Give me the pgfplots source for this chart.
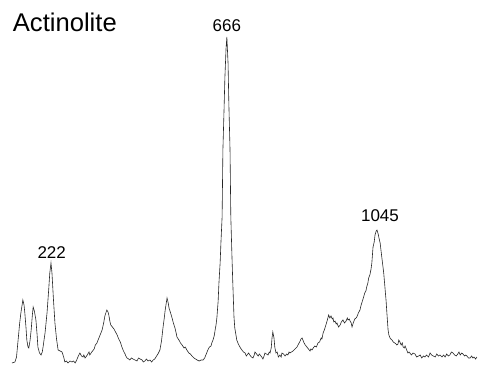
\documentclass[border=0pt]{standalone}
\usepackage{pgfplots}
\pgfplotsset{compat=1.18}
\usepackage{fontspec}
\setmainfont{Liberation Sans}
\begin{document}
\begin{tikzpicture}
\begin{axis}[
  scale only axis, width=478pt, height=367pt,
  hide axis, clip=false,
  xmin=93.3, xmax=1300, ymin=-4, ymax=363,
]
\addplot[black!85, line width=0.6pt, mark=none] coordinates {
(123.5,0) (131,1) (135,6) (139,23) (143,40) (146,50) (151,63) (154,58) (156,50) (159,35) (161,23) (164,16) (166,15) (169,22) (172,33) (175,48) (177,56) (180,52) (184,43) (187,28) (189,16) (193,10) (197,8) (200,11) (202,16) (207,30) (212,50) (216,72) (219,90) (222,100) (224.5,90) (228,65) (232,40) (236,24) (240,13) (245,12) (250,11) (254,6) (257,1) (261,2) (265,0) (270,2) (275,1) (279,2) (283,0) (287,3) (290,6) (295,10) (299,7) (303,6) (305,8) (308,5) (312,7) (315,9) (318,11) (320,8) (325,11) (331,14) (334,18) (338,20) (342,24) (346,28) (351,33) (355,40) (358,47) (363,53) (366,51) (368,48) (371,41) (373,38) (377,36) (381,34) (385,31) (389,28) (393,24) (397,21) (401,16) (405,12) (409,9) (411,7) (414,5) (418,4) (421,3) (425,5) (429,4) (434,3) (439,2) (443,5) (447,4) (452,3) (455,1) (459,2) (463,4) (467,2) (472,3) (476,1) (480,3) (484,4) (487,6) (492,9) (497,13) (501,22) (505,36) (508,45) (510,52) (513,60) (515,65) (518,60) (520,55) (524,50) (527,46) (531,40) (535,35) (538,30) (540,26) (545,23) (549,20) (553,18) (558,15) (561,16) (565,13) (570,10) (574,9) (578,7) (583,5) (587,4) (591,3) (596,2) (601,3) (606,3) (610,5) (613,8) (616,11) (618,13) (622,16) (626,17) (628,20) (631,23) (634,27) (636,32) (639,39) (641,46) (644,62) (646,80) (649,100) (651,120) (654,146) (656,213) (659,255) (661,285) (664,315) (666,326) (669,300) (671,260) (674,213) (676,146) (679,105) (681,80) (684,46) (686,35) (689,28) (691,23) (695,19) (699,16) (702,14) (704,13) (708,11) (712,10) (715,7) (717,8) (721,10) (724,8) (728,6) (732,5) (735,8) (737,11) (741,9) (745,7) (748,9) (750,8) (754,6) (757,4) (760,7) (762,10) (766,9) (770,8) (773,11) (775,10) (778,15) (780,25) (782,31) (784,27) (785,25) (787,16) (790,10) (793,11) (796,6) (800,8) (803,6) (805,10) (809,9) (813,7) (817,9) (820,8) (823,11) (825,10) (829,11) (833,12) (838,14) (843,16) (847,19) (851,22) (853,24) (856,25) (858,23) (861,20) (864,18) (868,16) (872,14) (876,12) (878,14) (881,13) (884,15) (888,17) (892,16) (896,20) (900,21) (904,25) (906,24) (909,30) (912,33) (916,38) (919,42) (921,45) (923,48) (926,45) (929,47) (932,44) (934,45) (936,41) (939,42) (942,39) (944,40) (948,36) (952,38) (955,41) (959,43) (963,40) (967,42) (970,45) (972,43) (975,44) (977,42) (980,40) (982,36) (985,40) (989,44) (992,45) (994,46) (998,50) (1002,53) (1005,58) (1009,63) (1012,67) (1014,70) (1017,72) (1019,76) (1022,80) (1024,85) (1027,88) (1030,94) (1032,100) (1035,116) (1038,121) (1040,128) (1043,132) (1045,133) (1048,129) (1050,125) (1053,120) (1055,113) (1058,103) (1062,90) (1065,76) (1068,62) (1070,50) (1073,33) (1075,28) (1078,25) (1080,24) (1083,23) (1086,21) (1090,20) (1093,19) (1095,18) (1098,19) (1100,23) (1103,21) (1106,18) (1109,20) (1111,16) (1114,15) (1116,17) (1120,13) (1123,10) (1126,11) (1128,10) (1132,8) (1136,10) (1141,9) (1145,6) (1150,7) (1154,8) (1158,5) (1162,7) (1166,6) (1170,8) (1175,6) (1179,10) (1183,8) (1187,7) (1192,6) (1196,9) (1200,7) (1204,8) (1209,6) (1213,8) (1217,6) (1221,9) (1225,7) (1229,8) (1233,11) (1237,10) (1241,8) (1245,7) (1249,9) (1252,11) (1255,8) (1259,10) (1262,9) (1266,7) (1269,8) (1272,7) (1276,5) (1280,5) (1284,7) (1287,5) (1290,6) (1294,4) (1297,6)
};
\node[anchor=base west, inner sep=0pt, font=\fontsize{25.6}{30}\selectfont] at (axis cs:125.3,331.3) {Actinolite};
\node[anchor=base, inner sep=0pt, font=\fontsize{17}{20}\selectfont] at (axis cs:666,331) {666};
\node[anchor=base, inner sep=0pt, font=\fontsize{17}{20}\selectfont] at (axis cs:223.8,104.7) {222};
\node[anchor=base, inner sep=0pt, font=\fontsize{17}{20}\selectfont] at (axis cs:1052.6,141.3) {1045};
\end{axis}
\path (current axis.south west) rectangle (current axis.north east);
\end{tikzpicture}
\end{document}
